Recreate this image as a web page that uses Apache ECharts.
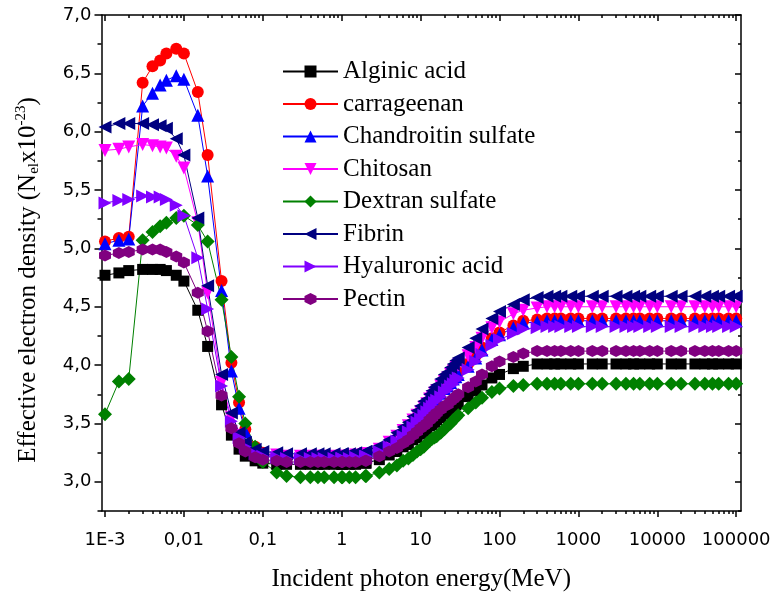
<!DOCTYPE html>
<html>
<head>
<meta charset="utf-8">
<script src="https://cdn.jsdelivr.net/npm/echarts@6/dist/echarts.min.js"></script>
<style>
html, body { margin: 0; padding: 0; background: #fff; }
#chart { width: 774px; height: 596px; }
</style>
</head>
<body>
<div id="chart"></div>
<script>
// photon energies (MeV)
var energies = [0.001, 0.0015, 0.002, 0.003, 0.004, 0.005, 0.006, 0.008, 0.01, 0.015, 0.02, 0.03, 0.04, 0.05, 0.06, 0.08,
  0.1, 0.15, 0.2, 0.3, 0.4, 0.5, 0.6, 0.8, 1, 1.022, 1.25, 1.5, 2, 2.044,
  3, 4, 5, 6, 7, 8, 9, 10, 11, 12, 13, 14, 15, 16, 18, 20, 22, 24, 26, 28, 30, 40, 50, 60, 80, 100,
  150, 200, 300, 400, 500, 600, 800, 1000, 1500, 2000, 3000, 4000, 5000, 6000, 8000, 10000,
  15000, 20000, 30000, 40000, 50000, 60000, 80000, 100000];

var alginic = [4.77, 4.79, 4.81, 4.82, 4.82, 4.82, 4.81, 4.77, 4.72, 4.47, 4.16, 3.66, 3.40, 3.28, 3.22, 3.18, 3.16,
  3.15, 3.15, 3.15, 3.15, 3.15, 3.15, 3.15, 3.15, 3.15, 3.15, 3.15, 3.16, 3.16,
  3.19, 3.23, 3.26, 3.30, 3.32, 3.36, 3.38, 3.41, 3.43, 3.45, 3.48, 3.49, 3.51, 3.53, 3.55, 3.58, 3.60, 3.62, 3.64, 3.66,
  3.67, 3.73, 3.78, 3.83, 3.89, 3.92, 3.97, 3.99, 4.01,
  4.01, 4.01, 4.01, 4.01, 4.01, 4.01, 4.01, 4.01, 4.01, 4.01, 4.01, 4.01, 4.01, 4.01, 4.01, 4.01, 4.01, 4.01, 4.01, 4.01, 4.01];
var carrageenan = [5.06, 5.09, 5.10, 6.42, 6.56, 6.61, 6.67, 6.71, 6.67, 6.34, 5.80, 4.72, 4.02, 3.68, 3.45, 3.30, 3.25,
  3.22, 3.21, 3.21, 3.21, 3.21, 3.21, 3.21, 3.21, 3.21, 3.21, 3.22, 3.23, 3.23,
  3.27, 3.32, 3.36, 3.41, 3.45, 3.50, 3.53, 3.57, 3.60, 3.63, 3.66, 3.69, 3.71, 3.73, 3.77, 3.81, 3.83, 3.86, 3.89, 3.91,
  3.94, 4.01, 4.08, 4.15, 4.23, 4.28, 4.34, 4.38, 4.39,
  4.40, 4.40, 4.40, 4.40, 4.40, 4.40, 4.40, 4.40, 4.40, 4.40, 4.40, 4.40, 4.40, 4.40, 4.40, 4.40, 4.40, 4.40, 4.40, 4.40, 4.40];
var chandroitin = [5.04, 5.07, 5.08, 6.22, 6.33, 6.40, 6.44, 6.48, 6.45, 6.14, 5.62, 4.64, 3.95, 3.63, 3.43, 3.29, 3.24,
  3.22, 3.21, 3.21, 3.21, 3.21, 3.21, 3.21, 3.21, 3.21, 3.21, 3.22, 3.23, 3.23,
  3.27, 3.32, 3.36, 3.41, 3.44, 3.49, 3.53, 3.56, 3.60, 3.62, 3.65, 3.68, 3.70, 3.72, 3.76, 3.80, 3.82, 3.85, 3.88, 3.90,
  3.92, 3.99, 4.06, 4.13, 4.22, 4.26, 4.32, 4.36, 4.37,
  4.38, 4.38, 4.38, 4.38, 4.38, 4.38, 4.38, 4.38, 4.38, 4.38, 4.38, 4.38, 4.38, 4.38, 4.38, 4.38, 4.38, 4.38, 4.38, 4.38, 4.38];
var chitosan = [5.84, 5.85, 5.87, 5.89, 5.88, 5.87, 5.86, 5.79, 5.69, 5.22, 4.62, 3.85, 3.55, 3.40, 3.31, 3.25, 3.23,
  3.23, 3.22, 3.22, 3.22, 3.22, 3.22, 3.22, 3.22, 3.22, 3.22, 3.23, 3.24, 3.24,
  3.28, 3.34, 3.39, 3.44, 3.48, 3.53, 3.57, 3.60, 3.64, 3.67, 3.71, 3.73, 3.76, 3.78, 3.82, 3.86, 3.89, 3.92, 3.95, 3.98,
  4.00, 4.08, 4.15, 4.23, 4.32, 4.37, 4.44, 4.47, 4.49,
  4.50, 4.50, 4.50, 4.50, 4.50, 4.50, 4.50, 4.50, 4.50, 4.50, 4.50, 4.50, 4.50, 4.50, 4.50, 4.50, 4.50, 4.50, 4.50, 4.50, 4.50];
var dextran = [3.58, 3.86, 3.88, 5.07, 5.14, 5.19, 5.22, 5.26, 5.28, 5.20, 5.06, 4.56, 4.07, 3.73, 3.50, 3.30, 3.17,
  3.08, 3.05, 3.04, 3.04, 3.04, 3.04, 3.04, 3.04, 3.04, 3.04, 3.04, 3.05, 3.05,
  3.08, 3.11, 3.14, 3.18, 3.20, 3.23, 3.26, 3.28, 3.30, 3.33, 3.35, 3.37, 3.38, 3.39, 3.42, 3.45, 3.48, 3.50, 3.53, 3.55,
  3.57, 3.63, 3.68, 3.72, 3.77, 3.80, 3.82, 3.83, 3.84,
  3.84, 3.84, 3.84, 3.84, 3.84, 3.84, 3.84, 3.84, 3.84, 3.84, 3.84, 3.84, 3.84, 3.84, 3.84, 3.84, 3.84, 3.84, 3.84, 3.84, 3.84];
var fibrin = [6.04, 6.07, 6.07, 6.07, 6.06, 6.05, 6.03, 5.94, 5.80, 5.26, 4.68, 3.92, 3.59, 3.42, 3.34, 3.28, 3.26,
  3.25, 3.24, 3.24, 3.24, 3.24, 3.24, 3.24, 3.24, 3.24, 3.24, 3.25, 3.26, 3.26,
  3.31, 3.36, 3.42, 3.47, 3.51, 3.56, 3.61, 3.65, 3.69, 3.71, 3.75, 3.78, 3.81, 3.83, 3.88, 3.92, 3.94, 3.98, 4.01, 4.04,
  4.06, 4.15, 4.23, 4.31, 4.40, 4.46, 4.52, 4.56, 4.58,
  4.59, 4.59, 4.59, 4.59, 4.59, 4.59, 4.59, 4.59, 4.59, 4.59, 4.59, 4.59, 4.59, 4.59, 4.59, 4.59, 4.59, 4.59, 4.59, 4.59, 4.59];
var hyaluronic = [5.39, 5.41, 5.42, 5.45, 5.44, 5.44, 5.42, 5.37, 5.28, 4.92, 4.48, 3.82, 3.52, 3.38, 3.30, 3.24, 3.22,
  3.21, 3.20, 3.20, 3.20, 3.20, 3.20, 3.20, 3.20, 3.20, 3.20, 3.21, 3.22, 3.22,
  3.26, 3.30, 3.35, 3.39, 3.43, 3.47, 3.51, 3.54, 3.57, 3.60, 3.63, 3.65, 3.68, 3.70, 3.73, 3.77, 3.79, 3.82, 3.84, 3.87,
  3.89, 3.96, 4.03, 4.09, 4.17, 4.22, 4.27, 4.31, 4.32,
  4.33, 4.33, 4.33, 4.33, 4.33, 4.33, 4.33, 4.33, 4.33, 4.33, 4.33, 4.33, 4.33, 4.33, 4.33, 4.33, 4.33, 4.33, 4.33, 4.33, 4.33];
var pectin = [4.94, 4.96, 4.97, 4.99, 4.99, 4.99, 4.97, 4.93, 4.88, 4.62, 4.29, 3.74, 3.46, 3.33, 3.26, 3.21, 3.19,
  3.18, 3.17, 3.17, 3.17, 3.17, 3.17, 3.17, 3.17, 3.17, 3.17, 3.17, 3.18, 3.18,
  3.22, 3.26, 3.29, 3.33, 3.36, 3.40, 3.43, 3.46, 3.48, 3.50, 3.53, 3.55, 3.57, 3.59, 3.62, 3.65, 3.66, 3.69, 3.71, 3.73,
  3.75, 3.81, 3.86, 3.92, 3.99, 4.03, 4.07, 4.10, 4.12,
  4.12, 4.12, 4.12, 4.12, 4.12, 4.12, 4.12, 4.12, 4.12, 4.12, 4.12, 4.12, 4.12, 4.12, 4.12, 4.12, 4.12, 4.12, 4.12, 4.12, 4.12];

var xTickValues = [0.001, 0.01, 0.1, 1, 10, 100, 1000, 10000, 100000];
var xTickLabels = ['1E-3', '0,01', '0,1', '1', '10', '100', '1000', '10000', '100000'];
var yTickValues = [3.0, 3.5, 4.0, 4.5, 5.0, 5.5, 6.0, 6.5, 7.0];
var yMinorValues = [2.75, 3.25, 3.75, 4.25, 4.75, 5.25, 5.75, 6.25, 6.75];

var xMin = 0.000903, xMax = 115000;
var yMin = 2.75, yMax = 7.0;

// minor ticks 2..9 in each decade
var xMinorValues = [];
for (var d = -4; d <= 5; d++) {
  for (var k = 2; k <= 9; k++) {
    var v = k * Math.pow(10, d);
    if (v > xMin && v < xMax) xMinorValues.push(v);
  }
}

var hexagon = 'path://M0,-1L0.866,-0.5L0.866,0.5L0,1L-0.866,0.5L-0.866,-0.5Z';
var seriesDefs = [
  {name: 'Alginic acid', data: alginic, color: '#000000', symbol: 'rect', size: 11, rot: 0},
  {name: 'carrageenan', data: carrageenan, color: '#ff0000', symbol: 'circle', size: 12, rot: 0},
  {name: 'Chandroitin sulfate', data: chandroitin, color: '#0000ff', symbol: 'triangle', size: 13, rot: 0},
  {name: 'Chitosan', data: chitosan, color: '#ff00ff', symbol: 'triangle', size: 13, rot: 180},
  {name: 'Dextran sulfate', data: dextran, color: '#008000', symbol: 'diamond', size: 14, rot: 0},
  {name: 'Fibrin', data: fibrin, color: '#000080', symbol: 'triangle', size: 13, rot: 90},
  {name: 'Hyaluronic acid', data: hyaluronic, color: '#8000ff', symbol: 'triangle', size: 13, rot: -90},
  {name: 'Pectin', data: pectin, color: '#800080', symbol: hexagon, size: 12, rot: 0}
];

var black = '#000';
var lineSt = {color: black, width: 1.5};

function xAxisDef(pos, ticks, len, main) {
  return {
    type: 'log', logBase: 10, min: xMin, max: xMax, position: pos,
    axisLine: {show: main, onZero: false, lineStyle: lineSt},
    axisTick: {show: true, inside: pos === 'top', length: len, customValues: ticks, lineStyle: lineSt},
    axisLabel: {show: false},
    splitLine: {show: false}, minorTick: {show: false}
  };
}
function yAxisDef(pos, ticks, len, main) {
  return {
    type: 'value', min: yMin, max: yMax, position: pos,
    axisLine: {show: main, onZero: false, lineStyle: lineSt},
    axisTick: {show: true, inside: pos === 'right', length: len, customValues: ticks, lineStyle: lineSt},
    axisLabel: {show: false},
    splitLine: {show: false}, minorTick: {show: false}
  };
}

var xMain = xAxisDef('bottom', xTickValues, 6, true);
xMain.axisLabel = {
  show: true, customValues: xTickValues, margin: 20,
  color: black, fontFamily: 'DejaVu Sans', fontSize: 18,
  formatter: function (v) {
    for (var i = 0; i < xTickValues.length; i++) {
      if (Math.abs(Math.log10(xTickValues[i]) - Math.log10(v)) < 1e-6) return xTickLabels[i];
    }
    return '';
  }
};
xMain.name = 'Incident photon energy(MeV)';
xMain.nameLocation = 'middle';
xMain.nameGap = 56;
xMain.nameMoveOverlap = false;
xMain.nameTextStyle = {fontFamily: 'Liberation Serif', fontSize: 25, color: black};

var yMain = yAxisDef('left', yTickValues, 7, true);
yMain.axisLabel = {
  show: true, customValues: yTickValues, margin: 10,
  color: black, fontFamily: 'DejaVu Sans', fontSize: 18,
  formatter: function (v) { return v.toFixed(1).replace('.', ','); }
};
yMain.name = '{a|Effective electron density (N}{s|el}{a|x10}{p|-23}{a|)}';
yMain.nameLocation = 'middle';
yMain.nameRotate = 90;
yMain.nameGap = 58;
yMain.nameMoveOverlap = false;
yMain.nameTextStyle = {
  color: black,
  padding: [0, 34, 0, 0],
  rich: {
    a: {fontFamily: 'Liberation Serif', fontSize: 25, color: black, lineHeight: 30, verticalAlign: 'middle'},
    s: {fontFamily: 'Liberation Serif', fontSize: 15, color: black, lineHeight: 30, verticalAlign: 'bottom', padding: [0, 0, 2, 0]},
    p: {fontFamily: 'Liberation Serif', fontSize: 15, color: black, lineHeight: 30, verticalAlign: 'top'}
  }
};

var chart = echarts.init(document.getElementById('chart'), null, {renderer: 'canvas'});
var option = {
  animation: false,
  backgroundColor: '#fff',
  grid: {left: 101.5, right: 33, top: 15, bottom: 85, containLabel: false, outerBoundsMode: 'none'},
  legend: {
    orient: 'vertical', left: 277, top: 54,
    itemWidth: 55, itemHeight: 15, itemGap: 7.5,
    textStyle: {fontFamily: 'Liberation Serif', fontSize: 25, color: black, lineHeight: 25},
    data: seriesDefs.map(function (s) { return s.name; }),
    selectedMode: false
  },
  xAxis: [
    xMain,
    xAxisDef('bottom', xMinorValues, 3, false),
    xAxisDef('top', xTickValues, 6, true),
    xAxisDef('top', xMinorValues, 3, false)
  ],
  yAxis: [
    yMain,
    yAxisDef('left', yMinorValues, 4, false),
    yAxisDef('right', yTickValues, 6, true),
    yAxisDef('right', yMinorValues, 3, false)
  ],
  series: seriesDefs.map(function (s) {
    return {
      name: s.name, type: 'line', xAxisIndex: 0, yAxisIndex: 0,
      data: energies.map(function (e, i) { return [e, s.data[i]]; }),
      symbol: s.symbol, symbolSize: s.size, symbolRotate: s.rot,
      showAllSymbol: true,
      lineStyle: {color: s.color, width: 1},
      itemStyle: {color: s.color, borderWidth: 0},
      emphasis: {disabled: true}
    };
  })
};
chart.setOption(option);
</script>
</body>
</html>
